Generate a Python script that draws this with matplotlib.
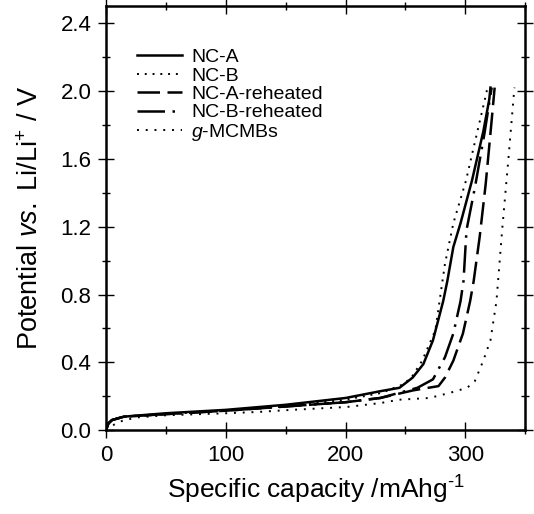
import matplotlib
matplotlib.use("Agg")
import matplotlib.pyplot as plt
from matplotlib.ticker import MultipleLocator

plt.rcParams['font.family'] = ['Liberation Sans', 'DejaVu Sans']
plt.rcParams['mathtext.fontset'] = 'custom'
plt.rcParams['mathtext.rm'] = 'Liberation Sans'
plt.rcParams['mathtext.it'] = 'Liberation Sans:italic'

# curves (capacity mAh/g, potential V)
nca_x = [0, 2, 5, 15, 50, 100, 150, 200, 229, 245, 256, 265, 273, 281.5, 285, 290, 296, 305.5, 315, 320, 321]
nca_y = [0, 0.04, 0.06, 0.08, 0.10, 0.12, 0.15, 0.19, 0.23, 0.25, 0.31, 0.39, 0.53, 0.76, 0.88, 1.08, 1.22, 1.47, 1.76, 1.95, 2.02]

ncb_x = [0, 2, 5, 15, 50, 100, 150, 200, 230, 248, 255, 264, 275, 283, 290, 300.5, 309.7, 317, 318.5]
ncb_y = [0, 0.04, 0.06, 0.08, 0.095, 0.115, 0.14, 0.18, 0.22, 0.27, 0.31, 0.41, 0.59, 0.98, 1.22, 1.47, 1.75, 1.97, 2.02]

ncar_x = [0, 2, 5, 15, 50, 100, 150, 200, 229, 256.5, 277.6, 283, 290, 298, 304, 307, 312, 317, 321, 324.5]
ncar_y = [0, 0.04, 0.06, 0.08, 0.095, 0.115, 0.14, 0.165, 0.19, 0.235, 0.26, 0.31, 0.41, 0.57, 0.76, 0.88, 1.14, 1.45, 1.75, 2.02]

ncbr_x = [0, 2, 5, 15, 50, 100, 150, 200, 229, 260, 273, 283, 290, 296, 298.5, 301, 308, 316, 322]
ncbr_y = [0, 0.04, 0.06, 0.08, 0.095, 0.115, 0.14, 0.165, 0.19, 0.25, 0.30, 0.43, 0.57, 0.76, 0.88, 1.18, 1.43, 1.75, 2.02]

mcmb_x = [0, 3, 6, 11, 25, 50, 100, 128, 150, 201, 229, 245, 270, 287, 301.5, 308, 315, 321, 326, 331, 336, 341]
mcmb_y = [0, 0.02, 0.03, 0.05, 0.075, 0.088, 0.10, 0.108, 0.118, 0.137, 0.16, 0.18, 0.19, 0.22, 0.25, 0.29, 0.41, 0.53, 0.76, 1.2, 1.6, 2.02]

fig = plt.figure(figsize=(5.34, 5.14), dpi=100)
ax = fig.add_axes([0.1985, 0.163, 0.785, 0.825])

ax.plot(nca_x, nca_y, color='black', lw=1.8, ls='-', label='NC-A')
ax.plot(ncb_x, ncb_y, color='black', lw=1.4, ls=(0, (1, 3)), label='NC-B')
ax.plot(ncar_x, ncar_y, color='black', lw=1.8, ls=(0, (9, 3)), label='NC-A-reheated')
ax.plot(ncbr_x, ncbr_y, color='black', lw=1.8, ls=(0, (11, 3, 1, 3)), label='NC-B-reheated')
ax.plot(mcmb_x, mcmb_y, color='black', lw=1.4, ls=(0, (1, 3.5)), label='$g$-MCMBs')

ax.set_xlim(0, 350)
ax.set_ylim(0, 2.5)
ax.xaxis.set_major_locator(MultipleLocator(100))
ax.xaxis.set_minor_locator(MultipleLocator(50))
ax.yaxis.set_major_locator(MultipleLocator(0.4))
ax.yaxis.set_minor_locator(MultipleLocator(0.2))
ax.yaxis.set_major_formatter(plt.FormatStrFormatter('%.1f'))

ax.tick_params(which='both', direction='inout', top=True, right=True, labelsize=16, width=1.0)
ax.tick_params(which='major', length=11, pad=5)
ax.tick_params(which='minor', length=6)
for s in ax.spines.values():
    s.set_linewidth(1.8)

ax.set_xlabel('Specific capacity /mAhg$^{\\text{-}1}$', fontsize=19, labelpad=6)
ax.set_ylabel('Potential $vs.$ Li/Li$^{+}$ / V', fontsize=19.5, labelpad=12)

ax.legend(loc='upper left', bbox_to_anchor=(0.075, 0.90), frameon=False, fontsize=14,
          handlelength=2.3, handletextpad=0.45, labelspacing=0.04,
          borderpad=0, borderaxespad=0)

fig.savefig('out.png', dpi=100)
